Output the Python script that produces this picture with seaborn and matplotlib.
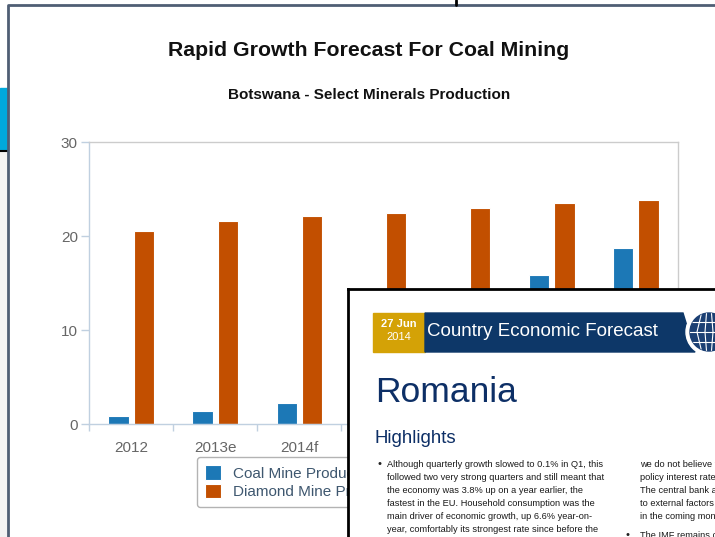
import numpy as np
import pandas as pd
import matplotlib
matplotlib.use("Agg")
import matplotlib.pyplot as plt
import seaborn as sns
from matplotlib.patches import Rectangle, Polygon, Circle

# === data ===
years = ["2012", "2013e", "2014f", "2015f", "2016f", "2017f", "2018f"]
coal = [0.9, 1.4, 2.2, 3.6, 8.0, 15.8, 18.7]
diamond = [20.5, 21.6, 22.1, 22.4, 23.0, 23.5, 23.8]
series_names = ["Coal Mine Production (mn tonnes)", "Diamond Mine Production (mn carats)"]
colors = ["#1c78b6", "#c24f00"]

df = pd.DataFrame({
    "year": years * 2,
    "value": coal + diamond,
    "series": [series_names[0]] * len(years) + [series_names[1]] * len(years),
})

sns.set_theme(style="white")
plt.rcParams['font.family'] = ['Liberation Sans', 'DejaVu Sans']

fig = plt.figure(figsize=(7.15, 5.37), dpi=100)

# page frame behind the chart (pixel coords)
bg = fig.add_axes([0, 0, 1, 1], zorder=0)
bg.set_xlim(0, 715)
bg.set_ylim(537, 0)
bg.axis('off')
bg.add_patch(Rectangle((0, 152), 8, 385, color='#f3f3f3'))
bg.add_patch(Rectangle((0, 88), 8, 62, color='#00a9dc'))
bg.plot([0, 8], [151, 151], color='black', lw=1.5)
bg.plot([8, 8, 715], [537, 5, 5], color='#4f5e74', lw=2)
bg.plot([456, 456], [0, 5], color='black', lw=2)

# === chart ===
ax = fig.add_axes([89 / 715, 113 / 537, 589 / 715, 282 / 537], zorder=1)
ax.patch.set_alpha(0)
sns.barplot(data=df, x='year', y='value', hue='series', palette=colors,
            width=0.6, gap=0.2, edgecolor='white', linewidth=0.8,
            saturation=1, ax=ax)
ax.set_ylim(0, 30)
ax.set_yticks([0, 10, 20, 30])
ax.set_xlim(-0.5, len(years) - 0.5)
ax.set_xlabel('')
ax.set_ylabel('')
for s in ['left', 'bottom']:
    ax.spines[s].set_color('#c0d0e0')
for s in ['top', 'right']:
    ax.spines[s].set_color('#cccccc')
for s in ax.spines.values():
    s.set_linewidth(1)
ax.tick_params(axis='y', length=6, width=1, color='#c0d0e0', labelcolor='#666666',
               labelsize=11, pad=2, left=True)
ax.tick_params(axis='x', which='major', length=0, labelcolor='#666666', labelsize=11, pad=12)
ax.set_xticks(np.arange(-0.5, len(years), 1), minor=True)
ax.tick_params(axis='x', which='minor', length=5, width=1, color='#c0d0e0', bottom=True)

leg = ax.legend(loc='upper left', bbox_to_anchor=((197 - 89) / 589, -0.117),
                borderaxespad=0, frameon=True, fancybox=True, fontsize=11,
                handlelength=1.05, handleheight=1.05, labelspacing=0.2,
                borderpad=0.55, handletextpad=0.75, labelcolor='#3e576f')
leg.get_frame().set_edgecolor('#a0a0a0')
leg.get_frame().set_linewidth(1)

fig.text(369 / 715, 1 - 50 / 537, "Rapid Growth Forecast For Coal Mining",
         ha='center', va='center', fontsize=15.3, fontweight='bold', color='#111111')
fig.text(369 / 715, 1 - 95 / 537, "Botswana - Select Minerals Production",
         ha='center', va='center', fontsize=11, fontweight='bold', color='#111111')

# === overlapping report page ===
ov = fig.add_axes([348 / 715, 0, 367 / 715, 248 / 537], zorder=5)
ov.set_xlim(348, 715)
ov.set_ylim(537, 289)
ov.set_facecolor('white')
ov.set_xticks([])
ov.set_yticks([])
for s in ['right', 'bottom']:
    ov.spines[s].set_visible(False)
for s in ['left', 'top']:
    ov.spines[s].set_color('black')
    ov.spines[s].set_linewidth(2)

ov.add_patch(Rectangle((373, 313), 52, 39, color='#d4a206'))
ov.add_patch(Polygon([(425, 313), (683, 313), (695, 352), (425, 352)], color='#0d3768'))
ov.text(399, 324, "27 Jun", color='white', fontsize=8, fontweight='bold', ha='center', va='center')
ov.text(399, 337, "2014", color='white', fontsize=8, ha='center', va='center')
ov.text(427, 331, "Country Economic Forecast", color='white', fontsize=13.5, ha='left', va='center')

ov.add_patch(Circle((709, 332), 23, color='white'))
globe = Circle((709, 332), 19, color='#1b3f73')
ov.add_patch(globe)
for dx in [-12, -4, 4, 12]:
    ln, = ov.plot([709 + dx * 0.6, 709 + dx, 709 + dx * 0.6], [312, 332, 352], color='white', lw=0.8)
    ln.set_clip_path(globe)
for dy in [-10, 0, 10]:
    ln, = ov.plot([688, 730], [332 + dy, 332 + dy], color='white', lw=0.8)
    ln.set_clip_path(globe)

ov.text(375, 392, "Romania", color='#0d2f66', fontsize=25.5, ha='left', va='center')
ov.text(375, 438, "Highlights", color='#0d2f66', fontsize=13.4, ha='left', va='center')

col1 = [
    "Although quarterly growth slowed to 0.1% in Q1, this",
    "followed two very strong quarters and still meant that",
    "the economy was 3.8% up on a year earlier, the",
    "fastest in the EU. Household consumption was the",
    "main driver of economic growth, up 6.6% year-on-",
    "year, comfortably its strongest rate since before the",
]
col2 = [
    "we do not believe that the NBR will cut its",
    "policy interest rate again this year.",
    "The central bank appears more sensitive",
    "to external factors and could tighten",
    "in the coming months.",
]
line_y = [464, 477, 490, 503, 516, 529]
ov.text(377, 464, "\u2022", fontsize=8, color='#222222', ha='left', va='center')
for y, t in zip(line_y, col1):
    ov.text(387, y, t, fontsize=6.7, color='#1a1a1a', ha='left', va='center')
for y, t in zip(line_y, col2):
    ov.text(640, y, t, fontsize=6.7, color='#1a1a1a', ha='left', va='center')
ov.text(626, 535, "\u2022", fontsize=8, color='#222222', ha='left', va='center')
ov.text(640, 535, "The IMF remains cautious", fontsize=6.7, color='#1a1a1a', ha='left', va='center')

fig.savefig("out.png", dpi=100)
